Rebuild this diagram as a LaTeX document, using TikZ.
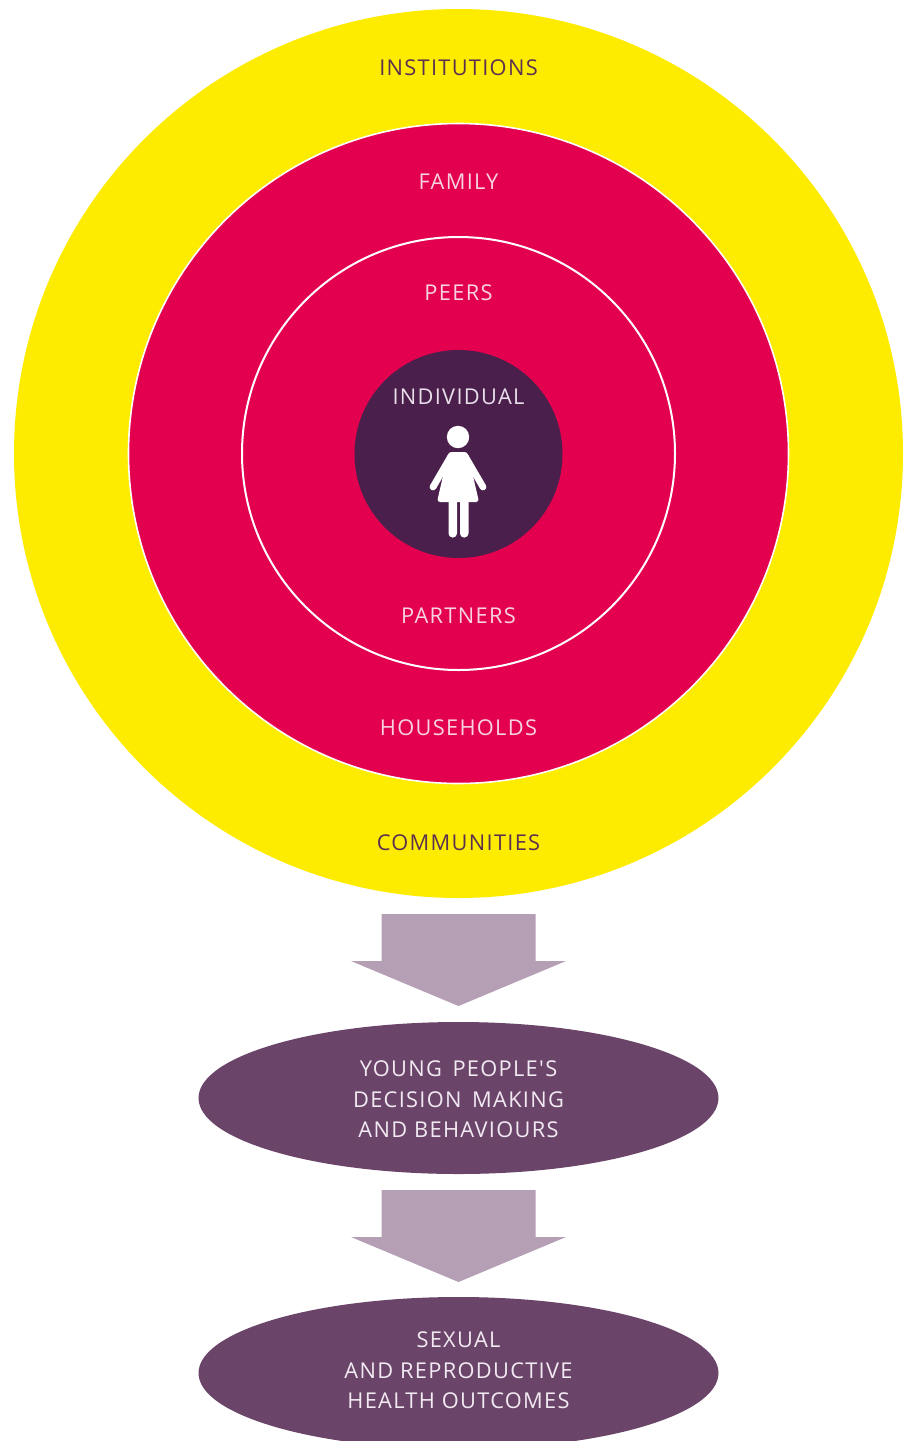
\documentclass[tikz,border=0pt]{standalone}
\usepackage{fontspec}
\setmainfont{Open Sans}
\newfontfamily\lblfont{Open Sans}[LetterSpace=6]
\usetikzlibrary{calc}
\definecolor{cyellow}{HTML}{FDEC00}
\definecolor{cred}{HTML}{E3004F}
\definecolor{cdark}{HTML}{4A1F4C}
\definecolor{ctextY}{HTML}{5C3150}
\definecolor{ctextR}{HTML}{F7D3DF}
\definecolor{ctextD}{HTML}{E8DFEA}
\definecolor{carrow}{HTML}{B59FB5}
\definecolor{cell}{HTML}{6B4569}
\definecolor{ctextE}{HTML}{F2EAF2}
\tikzset{
  ring/.style={circle, inner sep=0pt, draw=white},
  lbl/.style={font=\lblfont\fontsize{21.8}{30.5}\selectfont, align=center, inner sep=0pt},
  outcome/.style={ellipse, fill=cell, minimum width=520pt, minimum height=152pt, inner sep=0pt},
  bigarrow/.style={fill=carrow, draw=none},
  figure/.style={fill=white, draw=none}
}
\usetikzlibrary{shapes.geometric}
\begin{document}
\begin{tikzpicture}[x=1pt,y=-1pt]
\useasboundingbox (0,0) rectangle (915,1441);
\fill[white] (0,0) rectangle (915,1441);
% rings
\node[ring, fill=cyellow, draw=none, minimum size=889pt] (inst) at (458.5,453.5) {};
\node[ring, fill=cred, line width=1.6pt, minimum size=660pt] (fam) at (458.5,453.5) {};
\node[ring, fill=cred, line width=2pt, minimum size=433pt] (peer) at (458.5,453.5) {};
\node[ring, fill=cdark, draw=none, minimum size=208pt] (indiv) at (458.5,454) {};
% labels
\node[lbl, text=ctextY] (tinst) at (458.5,68) {INSTITUTIONS};
\node[lbl, text=ctextR] (tfam) at (458.5,182) {FAMILY};
\node[lbl, text=ctextR] (tpeer) at (458.5,293) {PEERS};
\node[lbl, text=ctextD] (tind) at (458.5,397) {INDIVIDUAL};
\node[lbl, text=ctextR] (tpart) at (458.5,616) {PARTNERS};
\node[lbl, text=ctextR] (thouse) at (458.5,728) {HOUSEHOLDS};
\node[lbl, text=ctextY] (tcomm) at (458.5,843) {COMMUNITIES};
% person icon
\fill[figure] (458,437) circle[radius=11.2pt];
\fill[figure, rounded corners=3pt] (448.5,452) -- (467.5,452) -- (479,502) -- (437,502) -- cycle;
\draw[white, line width=6.8pt, line cap=round] (450.5,457) -- (433,487);
\draw[white, line width=6.8pt, line cap=round] (465.5,457) -- (483,487);
\fill[figure, rounded corners=4pt] (448.5,495) -- (457,495) -- (457,537.5) -- (448.5,537.5) -- cycle;
\fill[figure, rounded corners=4pt] (460,495) -- (468.5,495) -- (468.5,537.5) -- (460,537.5) -- cycle;
% outcomes
\node[outcome] (dec) at (458.5,1098) {};
\node[lbl, text=ctextE] (tdec) at (458.5,1099.5) {YOUNG\, PEOPLE'S\\DECISION\, MAKING\\AND BEHAVIOURS};
\node[outcome] (srh) at (458.5,1373) {};
\node[lbl, text=ctextE] (tsrh) at (458.5,1370.5) {SEXUAL\\AND REPRODUCTIVE\\HEALTH OUTCOMES};
% arrows
\coordinate (a1) at (458.5,914);
\coordinate (a2) at (458.5,1190);
\foreach \c in {a1,a2}{
  \fill[bigarrow] ($(\c)+(-77,0)$) -- ($(\c)+(77,0)$) -- ($(\c)+(77,47)$) -- ($(\c)+(107.5,47)$)
     -- ($(\c)+(0,92)$) -- ($(\c)+(-107.5,47)$) -- ($(\c)+(-77,47)$) -- cycle;
}
\end{tikzpicture}
\end{document}
